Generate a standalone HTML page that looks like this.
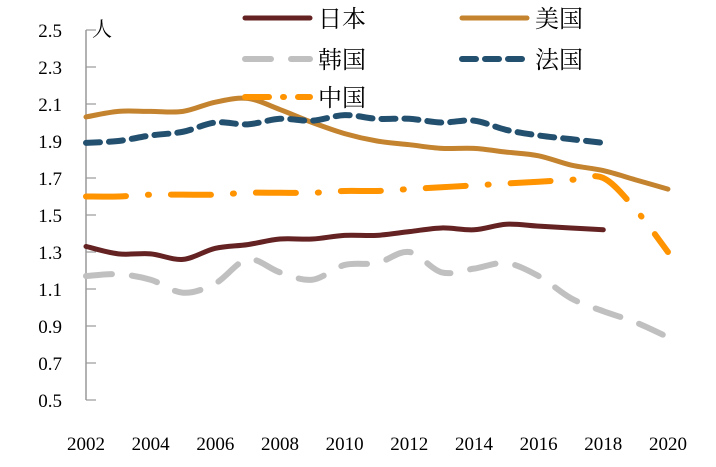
<!DOCTYPE html>
<html><head><meta charset="utf-8"><style>
body{margin:0;background:#fff}
text{font-family:"Liberation Serif","Noto Serif CJK SC",serif;fill:#000}
</style></head><body>
<svg id="c" width="716" height="462"></svg>
<script>
const years=[2002,2003,2004,2005,2006,2007,2008,2009,2010,2011,2012,2013,2014,2015,2016,2017,2018,2019,2020];
const japan=[1.33,1.29,1.29,1.26,1.32,1.34,1.37,1.37,1.39,1.39,1.41,1.43,1.42,1.45,1.44,1.43,1.42];
const usa=[2.03,2.06,2.06,2.06,2.11,2.13,2.07,2.0,1.94,1.90,1.88,1.86,1.86,1.84,1.82,1.77,1.74,1.69,1.64];
const korea=[1.17,1.18,1.15,1.08,1.13,1.26,1.19,1.15,1.23,1.24,1.30,1.19,1.21,1.24,1.17,1.05,0.98,0.92,0.84];
const france=[1.89,1.90,1.93,1.95,2.0,1.99,2.02,2.01,2.04,2.02,2.02,2.0,2.01,1.96,1.93,1.91,1.89];
const china=[1.60,1.60,1.61,1.61,1.61,1.62,1.62,1.62,1.63,1.63,1.64,1.65,1.66,1.67,1.68,1.69,1.70,1.53,1.30];
const yTicks=[0.5,0.7,0.9,1.1,1.3,1.5,1.7,1.9,2.1,2.3,2.5];
const xTicks=[2002,2004,2006,2008,2010,2012,2014,2016,2018,2020];
const svg=document.getElementById('c');const NS='http://www.w3.org/2000/svg';
const X=y=>86+(y-2002)*32.33, Y=v=>400-(v-0.5)*185;
function mk(t,a,p){const e=document.createElementNS(NS,t);for(const k in a)e.setAttribute(k,a[k]);(p||svg).appendChild(e);return e;}
let ax=mk('line',{x1:86,y1:30,x2:86,y2:400,stroke:'#999','stroke-width':1.5});


yTicks.forEach(v=>{
 let t=mk('text',{x:62,y:Y(v)+7,'text-anchor':'end','font-size':19});t.textContent=v.toFixed(1);
 
 
 let l=mk('line',{x1:86,x2:96,y1:Y(v),y2:Y(v),stroke:'#999','stroke-width':1.2});
 
 
});
xTicks.forEach(y=>{
 let t=mk('text',{x:X(y),y:450,'text-anchor':'middle','font-size':19});t.textContent=y;
 
 
});
let u=mk('text',{x:92,y:36,'font-size':20});u.textContent='人';


function path(vals){const p=vals.map((v,i)=>[X(years[i]),Y(v)]);let d='M'+p[0];
 for(let i=0;i<p.length-1;i++){const a=p[i-1]||p[i],b=p[i],c=p[i+1],e=p[i+2]||c;
 d+=' C'+[b[0]+(c[0]-a[0])/6,b[1]+(c[1]-a[1])/6]+' '+[c[0]-(e[0]-b[0])/6,c[1]-(e[1]-b[1])/6]+' '+c;}return d;}
const series=[
 ['japan',japan,'#642222','',5],['usa',usa,'#c4832e','',5],
 ['korea',korea,'#c0c0c0','26 20',6],['france',france,'#23506f','14 9',6],
 ['china',china,'#ff9300','40 22 1 22',6]];
series.forEach(s=>{let e=mk('path',{d:path(s[1]),fill:'none',stroke:s[2],'stroke-width':s[4],'stroke-dasharray':s[3],'stroke-linecap':'round'});
 
 });
const leg=[['日本',245,18,0],['美国',462,18,1],['韩国',245,59,2],['法国',462,59,3],['中国',245,97,4]];
leg.forEach(l=>{const s=series[l[3]];
 const g=mk('g',{});
 
 mk('line',{x1:l[1],x2:l[1]+65,y1:l[2],y2:l[2],stroke:s[2],'stroke-width':s[4],'stroke-dasharray':s[0]=='china'?'24 14 1 14':s[3],'stroke-linecap':'round'},g);
 const t=mk('text',{x:l[1]+73,y:l[2]+9,'font-size':24},g);t.textContent=l[0];});
</script>
</body></html>
